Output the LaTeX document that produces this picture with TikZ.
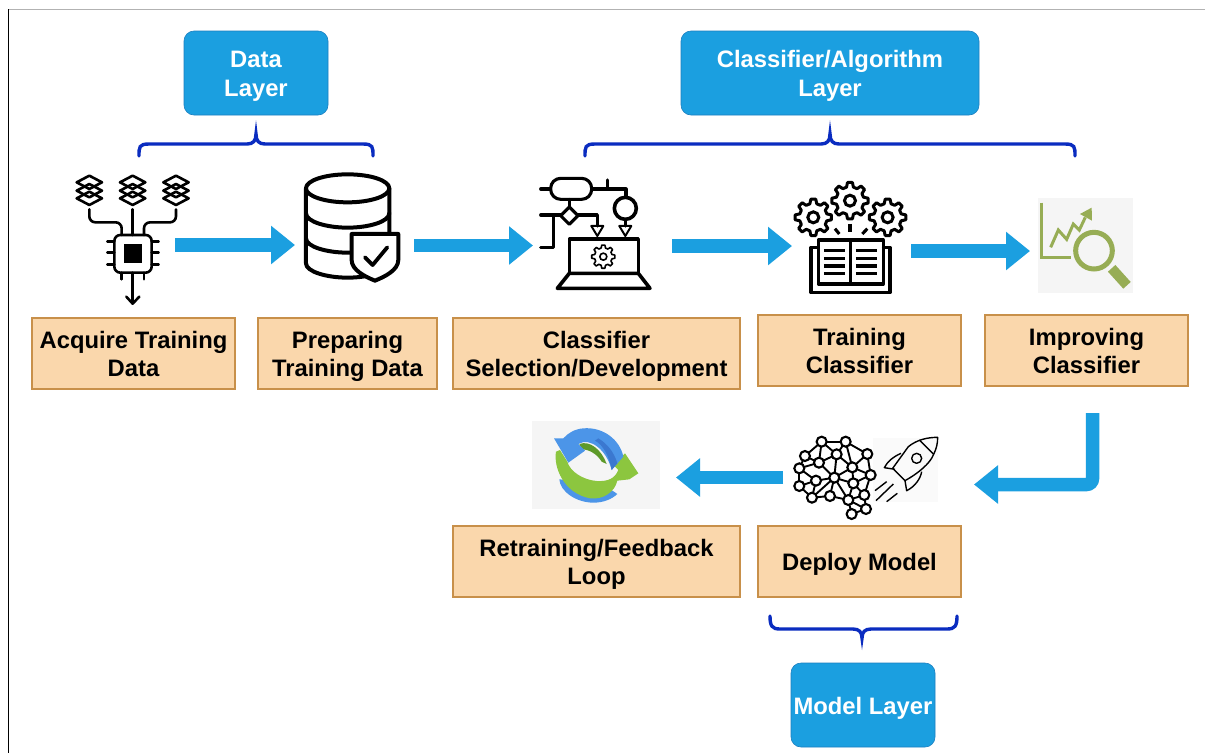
\documentclass[tikz,border=0pt]{standalone}
\usepackage{fontspec}
\setmainfont{Liberation Sans}
\usetikzlibrary{arrows.meta}
\definecolor{bluebox}{HTML}{1B9FE0}
\definecolor{blueedge}{HTML}{1B7FC0}
\definecolor{orangefill}{HTML}{FAD7AC}
\definecolor{orangeedge}{HTML}{C8904A}
\definecolor{bracecol}{HTML}{0A2CC0}
\definecolor{icongreen}{HTML}{97AD55}
\definecolor{checker}{HTML}{F5F5F5}
\definecolor{checkerlight}{HTML}{FAFAFA}
\definecolor{loopblue}{HTML}{4C95E8}
\definecolor{loopdeep}{HTML}{3B78D0}
\definecolor{loopgreen}{HTML}{8CC63F}
\definecolor{loopdark}{HTML}{5E9A2A}
\newcommand\topr[1]{\rule{0pt}{#1pt}}
\newcommand\botr{\rule[-7pt]{0pt}{7pt}}
\newcommand\gearglyph[5]{%
  \begin{scope}[shift={(#1,#2)}]
    \pgfmathsetmacro\gs{360/#4}
    \pgfmathsetmacro\gi{#3*0.76}
    \draw[line width=#5,line join=round,fill=white]
      ({-0.32*\gs}:\gi)
      \foreach \k in {0,...,\numexpr#4-1\relax}{
        -- ({(\k-0.32)*\gs}:\gi) -- ({(\k-0.17)*\gs}:#3) -- ({(\k+0.17)*\gs}:#3) -- ({(\k+0.32)*\gs}:\gi)
      } -- cycle;
    \draw[line width=#5] (0,0) circle ({#3*0.3});
  \end{scope}}
\newcommand\upbrace[3]{%
  \draw[bracecolstyle] (#1,156) .. controls (#1,147) and (#1,144) .. ({#1+10},144) -- ({#2-9},144)
    .. controls ({#2-3},144) and (#2,141) .. (#2,134)
    .. controls (#2,141) and ({#2+3},144) .. ({#2+9},144) -- ({#3-10},144)
    .. controls (#3,144) and (#3,147) .. (#3,156);}
\tikzset{
  orangebox/.style={draw=orangeedge,fill=orangefill,line width=1.3pt,minimum height=71pt,inner sep=0pt,outer sep=0pt,align=center,
    font=\fontsize{23.8}{28}\selectfont\bfseries,text=black},
  layerbox/.style={draw=blueedge,fill=bluebox,line width=.6pt,rounded corners=10pt,minimum height=84pt,inner sep=0pt,outer sep=0pt,align=center,
    font=\fontsize{23.8}{28.5}\selectfont\bfseries,text=white},
  flowarrow/.style={draw=bluebox,line width=13.5pt,-{Triangle[length=24pt,width=37pt]}},
  bracecolstyle/.style={draw=bracecol,line width=3.4pt,line cap=round},
  ink/.style={draw=black,line width=3.1pt,line cap=round,line join=round},
  netnode/.style={circle,draw=black,fill=white,line width=2.1pt,minimum size=10pt,inner sep=0pt,outer sep=0pt},
  netedge/.style={draw=black,line width=1.9pt},
}
\begin{document}
\begin{tikzpicture}[x=1pt,y=-1pt]
\useasboundingbox (0,0) rectangle (1205,753);
\fill[white] (0,0) rectangle (1205,753);
\draw[gray!60,line width=1pt] (8,9) -- (1205,9);
\draw[black,line width=1pt] (8,9) -- (8,753);

% layer boxes
\node[layerbox,minimum width=144pt] (datalayer) at (256,73) {\topr{25}Data\\Layer\botr};
\node[layerbox,minimum width=298pt] (classlayer) at (830,73) {\topr{25}Classifier/Algorithm\\Layer\botr};
\node[layerbox,minimum width=144pt] (modellayer) at (863,705) {\topr{25}Model Layer\botr};

% braces
\upbrace{139}{256}{373}
\upbrace{585}{830}{1075}
\draw[bracecolstyle] (770,616) .. controls (770,626) and (772,629) .. (780,629) -- (853,629)
  .. controls (859,629) and (862,632) .. (862,638)
  .. controls (862,632) and (865,629) .. (871,629) -- (947,629)
  .. controls (955,629) and (957,626) .. (957,616);

% step boxes
\node[orangebox,minimum width=203pt] (acquire) at (133.5,353.5) {\topr{24}Acquire Training\\Data\botr};
\node[orangebox,minimum width=179pt] (prepare) at (347.5,353.5) {\topr{24}Preparing\\Training Data\botr};
\node[orangebox,minimum width=287pt] (select) at (596.5,353.5) {\topr{24}Classifier\\Selection/Development\botr};
\node[orangebox,minimum width=203pt] (train) at (859.5,350.5) {\topr{25}Training\\Classifier\botr};
\node[orangebox,minimum width=203pt] (improve) at (1086.5,350.5) {\topr{25}Improving\\Classifier\botr};
\node[orangebox,minimum width=287pt] (retrain) at (596.5,561.5) {\topr{24}Retraining/Feedback\\Loop\botr};
\node[orangebox,minimum width=203pt] (deploy) at (859.5,561.5) {\topr{24}Deploy Model\botr};

% flow arrows
\coordinate (a1s) at (175,245); \coordinate (a1e) at (295,245);
\coordinate (a2s) at (414,245.5); \coordinate (a2e) at (533,245.5);
\coordinate (a3s) at (672,246); \coordinate (a3e) at (792,246);
\coordinate (a4s) at (911,251); \coordinate (a4e) at (1030,251);
\coordinate (a5s) at (783,477.5); \coordinate (a5e) at (676,477.5);
\coordinate (a6s) at (1092.5,413); \coordinate (a6c) at (1092.5,484.5); \coordinate (a6e) at (974,484.5);
\draw[flowarrow] (a1s) -- (a1e);
\draw[flowarrow] (a2s) -- (a2e);
\draw[flowarrow] (a3s) -- (a3e);
\draw[flowarrow] (a4s) -- (a4e);
\draw[flowarrow] (a5s) -- (a5e);
\draw[flowarrow,rounded corners=6pt] (a6s) -- (a6c) -- (a6e);

% icon 1: acquire
\begin{scope}[shift={(50,150)},x=.3333pt,y=-.3333pt]
  \foreach \cx in {118,248,378}{
    \foreach \cy in {145,122,97}{
      \draw[ink,line width=2.6pt] (\cx-38,\cy) -- (\cx,\cy-20) -- (\cx+38,\cy) -- (\cx,\cy+20) -- cycle;
    }
  }
  \draw[ink,line width=2.6pt,rounded corners=6pt] (118,178) -- (118,217) -- (215,217) -- (215,255);
  \draw[ink,line width=2.6pt] (248,178) -- (248,255);
  \draw[ink,line width=2.6pt,rounded corners=6pt] (378,178) -- (378,217) -- (282,217) -- (282,255);
  \draw[ink,line width=2.6pt,rounded corners=6pt] (193,255) rectangle (305,368);
  \fill[black] (222,283) rectangle (277,338);
  \foreach \py in {275,308,343}{
    \draw[ink,line width=2.6pt] (172,\py) -- (193,\py);
    \draw[ink,line width=2.6pt] (305,\py) -- (326,\py);
  }
  \draw[ink,line width=2.6pt] (215,368) -- (215,388);
  \draw[ink,line width=2.6pt] (282,368) -- (282,388);
  \draw[ink,line width=2.6pt] (248,368) -- (248,460);
  \draw[ink,line width=2.6pt] (229,440) -- (248,461) -- (268,440);
\end{scope}

% icon 2: database
\begin{scope}[shift={(50,150)},x=.3333pt,y=-.3333pt]
  \draw[ink,line width=4pt] (893,115) ellipse [x radius=125,y radius=42];
  \draw[ink,line width=4pt] (768,115) -- (768,340) .. controls (768,365) and (830,383) .. (893,383) .. controls (956,383) and (1018,365) .. (1018,340) -- (1018,115);
  \draw[ink,line width=4pt] (768,190) .. controls (768,215) and (830,233) .. (893,233) .. controls (956,233) and (1018,215) .. (1018,190);
  \draw[ink,line width=4pt] (768,265) .. controls (768,290) and (830,308) .. (893,308) .. controls (956,308) and (1018,290) .. (1018,265);
  \draw[ink,line width=4pt,fill=white] (905,252) -- (1045,252) -- (1045,330) .. controls (1045,360) and (1005,380) .. (975,392) .. controls (945,380) and (905,360) .. (905,330) -- cycle;
  \draw[ink,line width=3.8pt] (945,322) -- (968,345) -- (1012,292);
\end{scope}

% icon 3: flowchart laptop
\begin{scope}[shift={(520,160)},x=.3333pt,y=-.3333pt]
  \draw[ink,rounded corners=10pt] (92,55) rectangle (215,118);
  \draw[ink] (62,87) -- (92,87);
  \draw[ink] (215,87) -- (318,87) -- (318,112);
  \draw[ink] (263,60) -- (263,87);
  \draw[ink,line width=3.6pt] (316,145) circle (33);
  \draw[ink] (316,178) -- (316,198);
  \draw[ink,line width=2pt] (298,198) -- (334,198) -- (316,228) -- cycle;
  \draw[ink] (148,118) -- (148,141);
  \draw[ink] (148,141) -- (174,167) -- (148,193) -- (122,167) -- cycle;
  \draw[ink] (122,165) -- (62,165);
  \draw[ink] (100,165) -- (100,262) -- (62,262);
  \draw[ink] (174,165) -- (232,165) -- (232,198);
  \draw[ink,line width=2pt] (214,198) -- (250,198) -- (232,228) -- cycle;
  \draw[ink] (148,340) -- (148,237) -- (355,237) -- (355,340);
  \draw[ink,line width=3.6pt] (148,340) -- (355,340) -- (390,385) -- (112,385) -- cycle;
  \gearglyph{250}{290}{35}{8}{1.6pt}
\end{scope}

% icon 4: book and gears
\begin{scope}[shift={(520,160)},x=.3333pt,y=-.3333pt]
  \gearglyph{880}{172}{55}{8}{3pt}
  \gearglyph{990}{122}{55}{8}{3pt}
  \gearglyph{1103}{172}{55}{8}{3pt}
  \draw[ink,line cap=butt] (945,206) -- (958,222);
  \draw[ink,line cap=butt] (990,192) -- (990,216);
  \draw[ink,line cap=butt] (1042,206) -- (1027,222);
  \draw[ink] (895,240) rectangle (1090,372);
  \draw[ink] (992,240) -- (992,372);
  \draw[ink] (895,262) -- (873,262) -- (873,398) -- (1110,398) -- (1110,262) -- (1090,262);
  \foreach \ly in {272,295,318,341}{
    \draw[ink,line cap=butt] (912,\ly) -- (975,\ly);
    \draw[ink,line cap=butt] (1008,\ly) -- (1072,\ly);
  }
\end{scope}

% icon 5: improving
\begin{scope}[shift={(960,180)},x=.3333pt,y=-.3333pt]
  \fill[checker] (235,55) rectangle (520,338);
  \draw[icongreen,line width=2.8pt] (245,68) -- (245,232) -- (332,232);
  \draw[icongreen,line width=3pt] (272,202) -- (295,150) -- (320,178) -- (340,132) -- (358,150) -- (376,112);
  \fill[icongreen] (360,102) -- (395,83) -- (396,122) -- cycle;
  \draw[icongreen,line width=5pt] (402,212) circle (55);
  \draw[icongreen,line width=10pt] (455,265) -- (501,316);
\end{scope}

% icon 6: retraining loop
\fill[checker] (532,421) rectangle (660,509);
\begin{scope}[shift={(540,420)},x=.3333pt,y=-.3333pt]
  \fill[loopblue] (58,178) .. controls (60,215) and (110,248) .. (160,248) .. controls (190,248) and (215,238) .. (232,222) -- (200,200) -- (80,180) -- cycle;
  \fill[loopdark] (118,72) .. controls (150,60) and (185,90) .. (200,132) -- (185,125) .. controls (170,100) and (145,88) .. (125,88) -- cycle;
  \fill[loopgreen] (48,95) .. controls (40,140) and (70,220) .. (150,235) .. controls (190,240) and (225,215) .. (232,182) -- (268,178) -- (295,160) -- (255,100) -- (220,135) -- (235,150) .. controls (225,175) and (205,185) .. (170,183) .. controls (130,180) and (90,155) .. (82,125) -- (60,90) -- cycle;
  \fill[loopblue] (42,55) -- (85,128) -- (135,92) -- (115,72) .. controls (150,50) and (200,90) .. (215,150) -- (250,110) .. controls (240,60) and (190,20) .. (130,25) .. controls (105,27) and (85,38) .. (70,55) -- cycle;
  \fill[loopdeep] (165,62) .. controls (190,75) and (208,110) .. (215,150) -- (232,130) .. controls (222,95) and (200,70) .. (175,55) -- cycle;
\end{scope}

% icon 7: brain and rocket
\begin{scope}[shift={(520,410)},x=.3333pt,y=-.3333pt]
  \fill[checkerlight] (1060,85) rectangle (1255,275);
  \foreach \nn/\nx/\ny in {A/905/95,B/977/95,C/1042/132,D/855/138,E/950/133,F/897/158,G/838/175,H/997/172,I/1052/195,J/943/203,K/888/212,L/1000/220,M/838/228,N/876/263,O/930/258,P/985/270,Q/1033/255,R/1038/297,S/995/312}{
    \coordinate (\nn) at (\nx,\ny);
  }
  \foreach \ea/\eb in {A/B,A/D,A/F,A/E,B/E,B/C,B/H,C/H,C/I,D/F,D/G,G/F,G/M,G/K,F/E,F/J,E/H,E/J,H/J,H/I,H/L,I/L,I/Q,J/K,J/L,J/O,J/N,K/M,K/N,M/N,N/O,O/P,L/P,L/Q,P/Q,P/R,P/S,Q/R,R/S,J/P}{
    \draw[netedge] (\ea) -- (\eb);
  }
  \foreach \nn in {A,B,C,D,E,F,G,H,I,J,K,L,M,N,O,P,Q,R,S}{
    \node[netnode] at (\nn) {};
  }
\end{scope}
\begin{scope}[shift={(790,430)},x=.3333pt,y=-.3333pt,line width=1.4pt,draw=black,line join=round]
    \draw (443,22) .. controls (410,22) and (380,30) .. (355,50) -- (308,115) -- (345,152) .. controls (385,130) and (420,100) .. (430,75) .. controls (440,55) and (443,40) .. (443,22) -- cycle;
    \draw (388,30) -- (430,72);
    \draw (380,85) circle (15);
    \draw (333,70) .. controls (310,80) and (292,95) .. (283,113) -- (315,118);
    \draw (395,125) .. controls (392,145) and (375,170) .. (350,182) -- (345,152);
    \draw (255,182) -- (290,155);
    \draw (258,212) -- (310,162);
    \draw (290,215) -- (322,190);
\end{scope}
\end{tikzpicture}
\end{document}
